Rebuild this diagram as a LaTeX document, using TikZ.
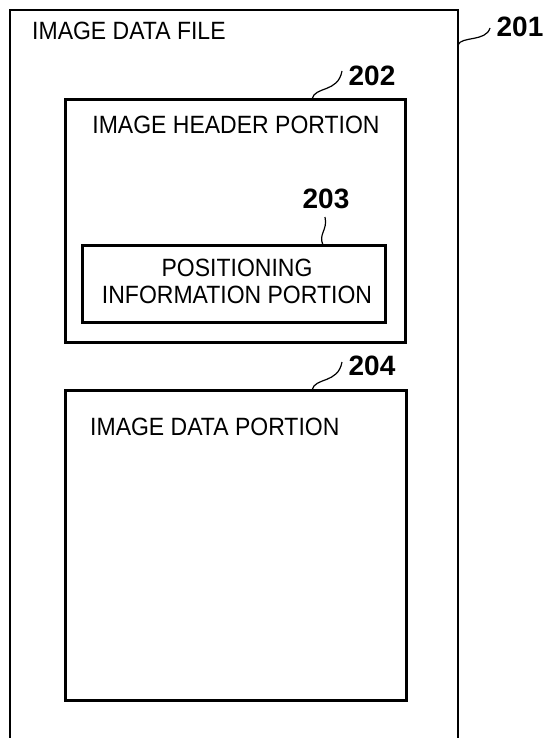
\documentclass[tikz,border=0pt]{standalone}
\usepackage{fontspec}
\setmainfont{Liberation Sans}
\newfontfamily\narrowsans[FakeStretch=0.92]{Liberation Sans}
\begin{document}
\begin{tikzpicture}[x=1bp,y=-1bp,
  box/.style={draw=black,line width=3bp,outer sep=0pt,inner sep=0pt,anchor=north west},
  frame/.style={draw=black,line width=2.7bp},
  lead/.style={draw=black,line width=1.2bp},
  caption/.style={font=\narrowsans\fontsize{25bp}{27bp}\selectfont,inner sep=0pt},
  refnum/.style={font=\fontsize{28bp}{30bp}\selectfont\bfseries,inner sep=0pt,anchor=base}]
\useasboundingbox (0,0) rectangle (546,738);

% outer file frame, open at the bottom edge
\draw[frame] (10,738) -- (10,10) -- (458,10) -- (458,738);
\node[caption,anchor=base west] (tfile) at (32,40) {IMAGE DATA FILE};

% header portion with the positioning block inside
\node[box,minimum width=340bp,minimum height=243bp] (b202) at (65,99) {};
\node[caption,anchor=base] (thead) at (236,133) {IMAGE HEADER PORTION};
\node[box,minimum width=303bp,minimum height=77bp] (b203) at (82,245) {};
\node[caption,align=center,anchor=center] (tpos) at (237,281) {POSITIONING\\INFORMATION PORTION};

% image data portion
\node[box,minimum width=341bp,minimum height=310bp] (b204) at (65,390) {};
\node[caption,anchor=base west] (tdata) at (90,435) {IMAGE DATA PORTION};

% reference numerals and their lead lines
\node[refnum] (n201) at (520,37) {201};
\node[refnum] (n202) at (372,85) {202};
\node[refnum] (n203) at (326,208) {203};
\node[refnum] (n204) at (372,375) {204};

\coordinate (s201) at (458,45);
\coordinate (e201) at (490,28);
\coordinate (s202) at (312,99);
\coordinate (e202) at (342,71);
\coordinate (s203) at (323,245);
\coordinate (e203) at (325,217);
\coordinate (s204) at (312,390);
\coordinate (e204) at (342,362);

\draw[lead] (s201) .. controls (461,36) and (486,42) .. (e201);
\draw[lead] (s202) .. controls (315,86) and (338,93) .. (e202);
\draw[lead] (s203) .. controls (318,234) and (328,230) .. (e203);
\draw[lead] (s204) .. controls (315,377) and (338,384) .. (e204);
\end{tikzpicture}
\end{document}
